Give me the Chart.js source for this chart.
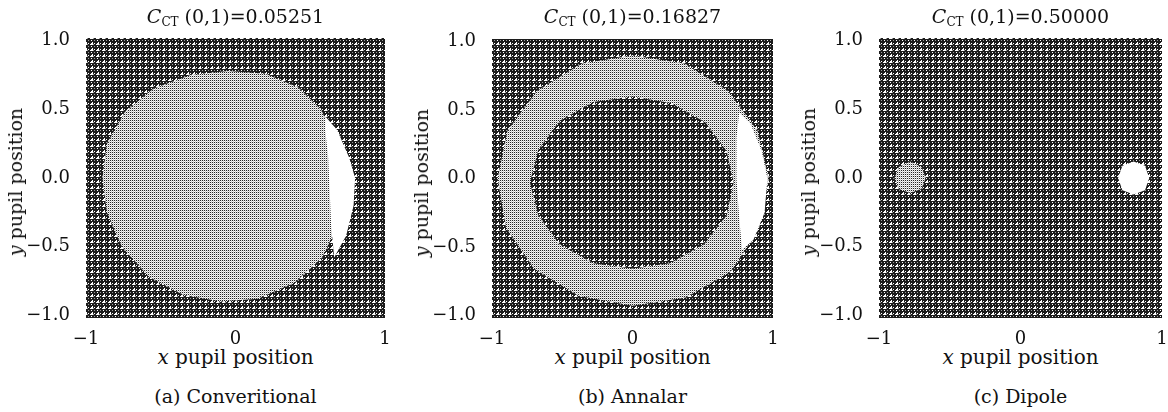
<!DOCTYPE html>
<html>
<head>
<meta charset="utf-8">
<script src="https://cdn.jsdelivr.net/npm/chart.js@4/dist/chart.umd.min.js"></script>
<style>
  body { margin: 0; background: #fff; width: 1168px; height: 412px; position: relative; overflow: hidden;
         font-family: "DejaVu Serif", "Liberation Serif", serif; color: #111; }
  canvas { position: absolute; top: 0; }
  .lbl { position: absolute; white-space: nowrap; font-size: 19px; transform: translate(-50%, -50%); }
  .lbl sub { font-size: 12px; vertical-align: -3px; }
  .axt { font-size: 20px; }
  .ytitle { font-size: 19px; transform: translate(-50%, -50%) rotate(-90deg); }
</style>
</head>
<body>
<canvas id="c0"></canvas>
<canvas id="c1"></canvas>
<canvas id="c2"></canvas>
<script>
// axis ticks
const xTicks = [-1, 0, 1];
const yTicks = [-1.0, -0.5, 0.0, 0.5, 1.0];

// panel texts
const cctValues = ['0.05251', '0.16827', '0.50000'];
const captions = ['(a) Converitional', '(b) Annalar', '(c) Dipole'];

// light/white regions of each pupil map, outlines (x, y)
const convDisk = [[-0.05,0.78],[0.2,0.76],[0.42,0.66],[0.57,0.5],[0.66,0.3],[0.7,0.1],[0.71,-0.1],[0.68,-0.35],
  [0.58,-0.58],[0.4,-0.76],[0.15,-0.88],[-0.1,-0.9],[-0.35,-0.85],[-0.58,-0.72],[-0.76,-0.5],[-0.86,-0.25],
  [-0.89,0.0],[-0.86,0.25],[-0.74,0.48],[-0.55,0.65],[-0.3,0.75]];
const convCrescent = [[0.6,0.45],[0.68,0.35],[0.76,0.15],[0.8,0.0],[0.79,-0.2],[0.74,-0.42],[0.66,-0.58],
  [0.64,-0.35],[0.63,-0.1],[0.62,0.15],[0.6,0.35]];
const annOuter = [[0,0.9],[0.37,0.84],[0.68,0.64],[0.89,0.35],[0.97,0],[0.9,-0.37],[0.7,-0.68],[0.38,-0.87],
  [0,-0.93],[-0.38,-0.86],[-0.7,-0.66],[-0.9,-0.36],[-0.96,0],[-0.89,0.35],[-0.68,0.64],[-0.36,0.84]];
const annInner = [[0,0.6],[0.28,0.55],[0.52,0.41],[0.67,0.2],[0.72,-0.03],[0.67,-0.27],[0.51,-0.48],[0.27,-0.62],
  [0,-0.66],[-0.28,-0.62],[-0.52,-0.48],[-0.67,-0.27],[-0.73,-0.03],[-0.67,0.21],[-0.52,0.42],[-0.28,0.56]];
const annPatch = [[0.76,0.48],[0.84,0.4],[0.92,0.2],[0.96,0.0],[0.94,-0.25],[0.86,-0.45],[0.78,-0.52],
  [0.76,-0.3],[0.74,0.0],[0.74,0.3]];
const dipLeft = [[-0.78,0.12],[-0.7,0.08],[-0.67,0],[-0.7,-0.08],[-0.78,-0.11],[-0.86,-0.08],[-0.89,0],[-0.86,0.08]];
const dipRight = [[0.8,0.12],[0.88,0.09],[0.91,0],[0.88,-0.09],[0.8,-0.12],[0.72,-0.09],[0.69,0],[0.72,0.09]];

// halftone textures
function makePattern(size, draw) {
    const c = document.createElement('canvas');
    c.width = size; c.height = size;
    const g = c.getContext('2d');
    draw(g);
    return g.createPattern(c, 'repeat');
}
const darkFill = makePattern(6, g => {
    g.fillStyle = '#1c1c1c'; g.fillRect(0, 0, 6, 6);
    g.fillStyle = '#fff';
    g.fillRect(1, 1, 2, 2); g.fillRect(4, 1, 1, 1); g.fillRect(1, 4, 1, 1);
    g.fillRect(0, 2, 1, 1); g.fillRect(2, 0, 1, 1);
    g.fillStyle = '#999'; g.fillRect(4, 4, 1, 1); g.fillRect(3, 2, 1, 1);
});
const lightFill = makePattern(2, g => {
    g.fillStyle = '#262626'; g.fillRect(0, 0, 1, 1);
    g.fillStyle = '#e4e4e4'; g.fillRect(1, 0, 1, 1);
    g.fillStyle = '#ffffff'; g.fillRect(0, 1, 1, 1);
    g.fillStyle = '#cccccc'; g.fillRect(1, 1, 1, 1);
});
const fills = { light: lightFill, dark: darkFill, white: '#ffffff' };

const panels = [
    { area: { l: 86, r: 385, t: 38, b: 318 }, shapes: [{ pts: convDisk, fill: 'light' }, { pts: convCrescent, fill: 'white' }] },
    { area: { l: 492, r: 773, t: 39, b: 318 }, shapes: [{ pts: annOuter, fill: 'light' }, { pts: annInner, fill: 'dark' }, { pts: annPatch, fill: 'white' }] },
    { area: { l: 879, r: 1162, t: 38, b: 318 }, shapes: [{ pts: dipLeft, fill: 'light' }, { pts: dipRight, fill: 'white' }] }
];

const pupilBg = {
    id: 'pupilBg',
    beforeDatasetsDraw(chart) {
        const { ctx, chartArea: a } = chart;
        ctx.save();
        ctx.fillStyle = darkFill;
        ctx.fillRect(a.left, a.top, a.right - a.left, a.bottom - a.top);
        ctx.restore();
    }
};

const H = 345, YW = 80, PADR = 12;
const tickFont = { family: 'DejaVu Serif', size: 18 };

function toPoints(pts) {
    const out = pts.map(([x, y]) => ({ x, y }));
    out.push({ x: pts[0][0], y: pts[0][1] });
    return out;
}

function addLabel(html, x, y, cls) {
    const d = document.createElement('div');
    d.className = 'lbl' + (cls ? ' ' + cls : '');
    d.innerHTML = html;
    d.style.left = x + 'px';
    d.style.top = y + 'px';
    document.body.appendChild(d);
}

panels.forEach((p, i) => {
    const a = p.area;
    const canvas = document.getElementById('c' + i);
    const left = a.l - YW;
    canvas.width = a.r + PADR - left;
    canvas.height = H;
    canvas.style.left = left + 'px';

    new Chart(canvas, {
        type: 'scatter',
        data: {
            datasets: p.shapes.map((s, k) => ({
                data: toPoints(s.pts),
                showLine: true,
                fill: 'shape',
                backgroundColor: fills[s.fill],
                borderWidth: 0,
                pointRadius: 0,
                order: p.shapes.length - k
            }))
        },
        options: {
            responsive: false,
            animation: false,
            devicePixelRatio: 1,
            layout: { padding: { left: 0, right: PADR, top: a.t, bottom: 0 } },
            plugins: { legend: { display: false }, tooltip: { enabled: false } },
            scales: {
                x: {
                    type: 'linear', min: -1, max: 1,
                    grid: { display: false }, border: { display: false },
                    afterBuildTicks: s => { s.ticks = xTicks.map(v => ({ value: v })); },
                    afterFit: s => { s.height = H - a.b; },
                    ticks: {
                        font: tickFont, color: '#111', padding: 3, maxRotation: 0,
                        callback: v => (v < 0 ? '\u2212' + Math.abs(v) : String(v))
                    }
                },
                y: {
                    type: 'linear', min: -1.02, max: 1.02,
                    grid: { display: false }, border: { display: false },
                    afterBuildTicks: s => { s.ticks = yTicks.map(v => ({ value: v })); },
                    afterFit: s => { s.width = YW; },
                    ticks: {
                        font: tickFont, color: '#111', padding: 8,
                        callback: v => (v < 0 ? '\u2212' + Math.abs(v).toFixed(1) : v.toFixed(1))
                    }
                }
            }
        },
        plugins: [pupilBg]
    });

    const cx = (a.l + a.r) / 2;
    addLabel('<i>C</i><sub>CT</sub> (0,1)=' + cctValues[i], cx, 17);
    addLabel('<i>y</i> pupil position', a.l - 71, (a.t + a.b) / 2 + 4, 'ytitle');
    addLabel('<i>x</i> pupil position', cx, 357, 'axt');
    addLabel(captions[i], cx, 396);
});
</script>
</body>
</html>
